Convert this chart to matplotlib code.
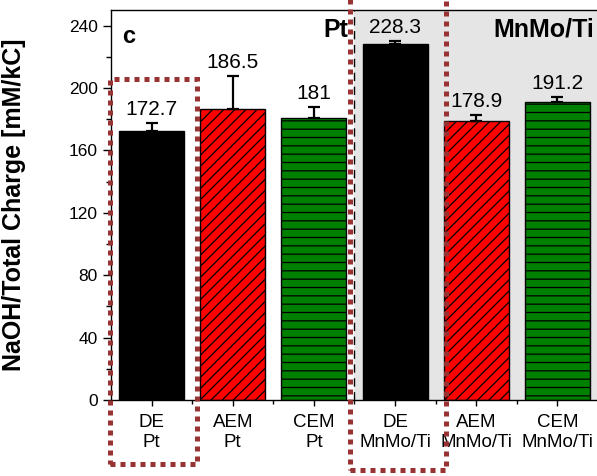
import matplotlib.pyplot as plt
from matplotlib.patches import Rectangle
from matplotlib.ticker import MultipleLocator, FixedLocator

plt.rcParams["font.family"] = ["Liberation Sans", "DejaVu Sans"]
plt.rcParams["hatch.linewidth"] = 0.9

# NaOH yield per charge for each cell configuration
membranes = ["DE", "AEM", "CEM", "DE", "AEM", "CEM"]
electrodes = ["Pt", "Pt", "Pt", "MnMo/Ti", "MnMo/Ti", "MnMo/Ti"]
values = [172.7, 186.5, 181.0, 228.3, 178.9, 191.2]
errors = [5.0, 21.0, 7.0, 2.0, 3.5, 3.0]
value_labels = ["172.7", "186.5", "181", "228.3", "178.9", "191.2"]
tick_labels = [f"{m}\n{e}" for m, e in zip(membranes, electrodes)]

colors = {"DE": "#000000", "AEM": "#ff0000", "CEM": "#008000"}
hatches = {"DE": None, "AEM": "///", "CEM": "--"}

fig = plt.figure(figsize=(5.97, 4.76), dpi=100)
ax = fig.add_axes([111 / 597, 76 / 476, 487 / 597, 390 / 476])

x = list(range(len(values)))
ax.axvspan(2.5, 5.5, color="#e5e5e5", zorder=0, lw=0)
ax.axvline(2.5, color="black", lw=1.0, ls=(0, (6, 4)), zorder=1)

for i, m in enumerate(membranes):
    ax.bar(i, values[i], width=0.8, color=colors[m], edgecolor="black",
           linewidth=1.0, hatch=hatches[m], zorder=2)
ax.errorbar(x, values, yerr=[[0] * len(errors), errors], fmt="none",
            ecolor="black", elinewidth=1.6, capsize=4, capthick=1.6, zorder=3)

for i in x:
    ax.annotate(value_labels[i], (i, values[i] + errors[i]), xytext=(0, 3),
                textcoords="offset points", ha="center", va="bottom", fontsize=15)

ax.set_xlim(-0.5, 5.5)
ax.set_ylim(0, 250)
ax.yaxis.set_major_locator(MultipleLocator(40))
ax.yaxis.set_minor_locator(MultipleLocator(20))
ax.set_xticks(x)
ax.set_xticklabels(tick_labels, fontsize=13.5, linespacing=1.25)
ax.xaxis.set_minor_locator(FixedLocator([0.5, 1.5, 2.5, 3.5, 4.5]))
ax.tick_params(axis="y", which="major", direction="out", length=6, width=1, labelsize=12.5)
ax.tick_params(axis="y", which="minor", direction="out", length=3.5, width=1)
ax.tick_params(axis="x", which="major", direction="out", length=4, width=1, pad=6)
ax.tick_params(axis="x", which="minor", direction="out", length=3, width=1)
for s in ax.spines.values():
    s.set_linewidth(1.0)

ax.set_ylabel("NaOH/Total Charge [mM/kC]", fontsize=18, fontweight="bold")
ax.yaxis.set_label_coords(-0.175, 0.5)

ax.text(0.022, 229, "c", transform=ax.get_yaxis_transform(), fontsize=17,
        fontweight="bold", va="baseline", ha="left")
ax.text(2.42, 233, "Pt", fontsize=18, fontweight="bold", ha="right", va="baseline")
ax.text(5.45, 233, "MnMo/Ti", fontsize=18, fontweight="bold", ha="right", va="baseline")

# dotted highlight boxes around the two DE cells
box_style = dict(fill=False, edgecolor="#993333", linewidth=3.6,
                 linestyle=(0, (1, 1)), transform=fig.transFigure, clip_on=False)
fig.patches.append(Rectangle((110 / 597, 1 - 464 / 476), 87 / 597, 385 / 476, **box_style))
fig.patches.append(Rectangle((350 / 597, 1 - 470 / 476), 96 / 597, 480 / 476, **box_style))

fig.savefig("out.png", dpi=100)
